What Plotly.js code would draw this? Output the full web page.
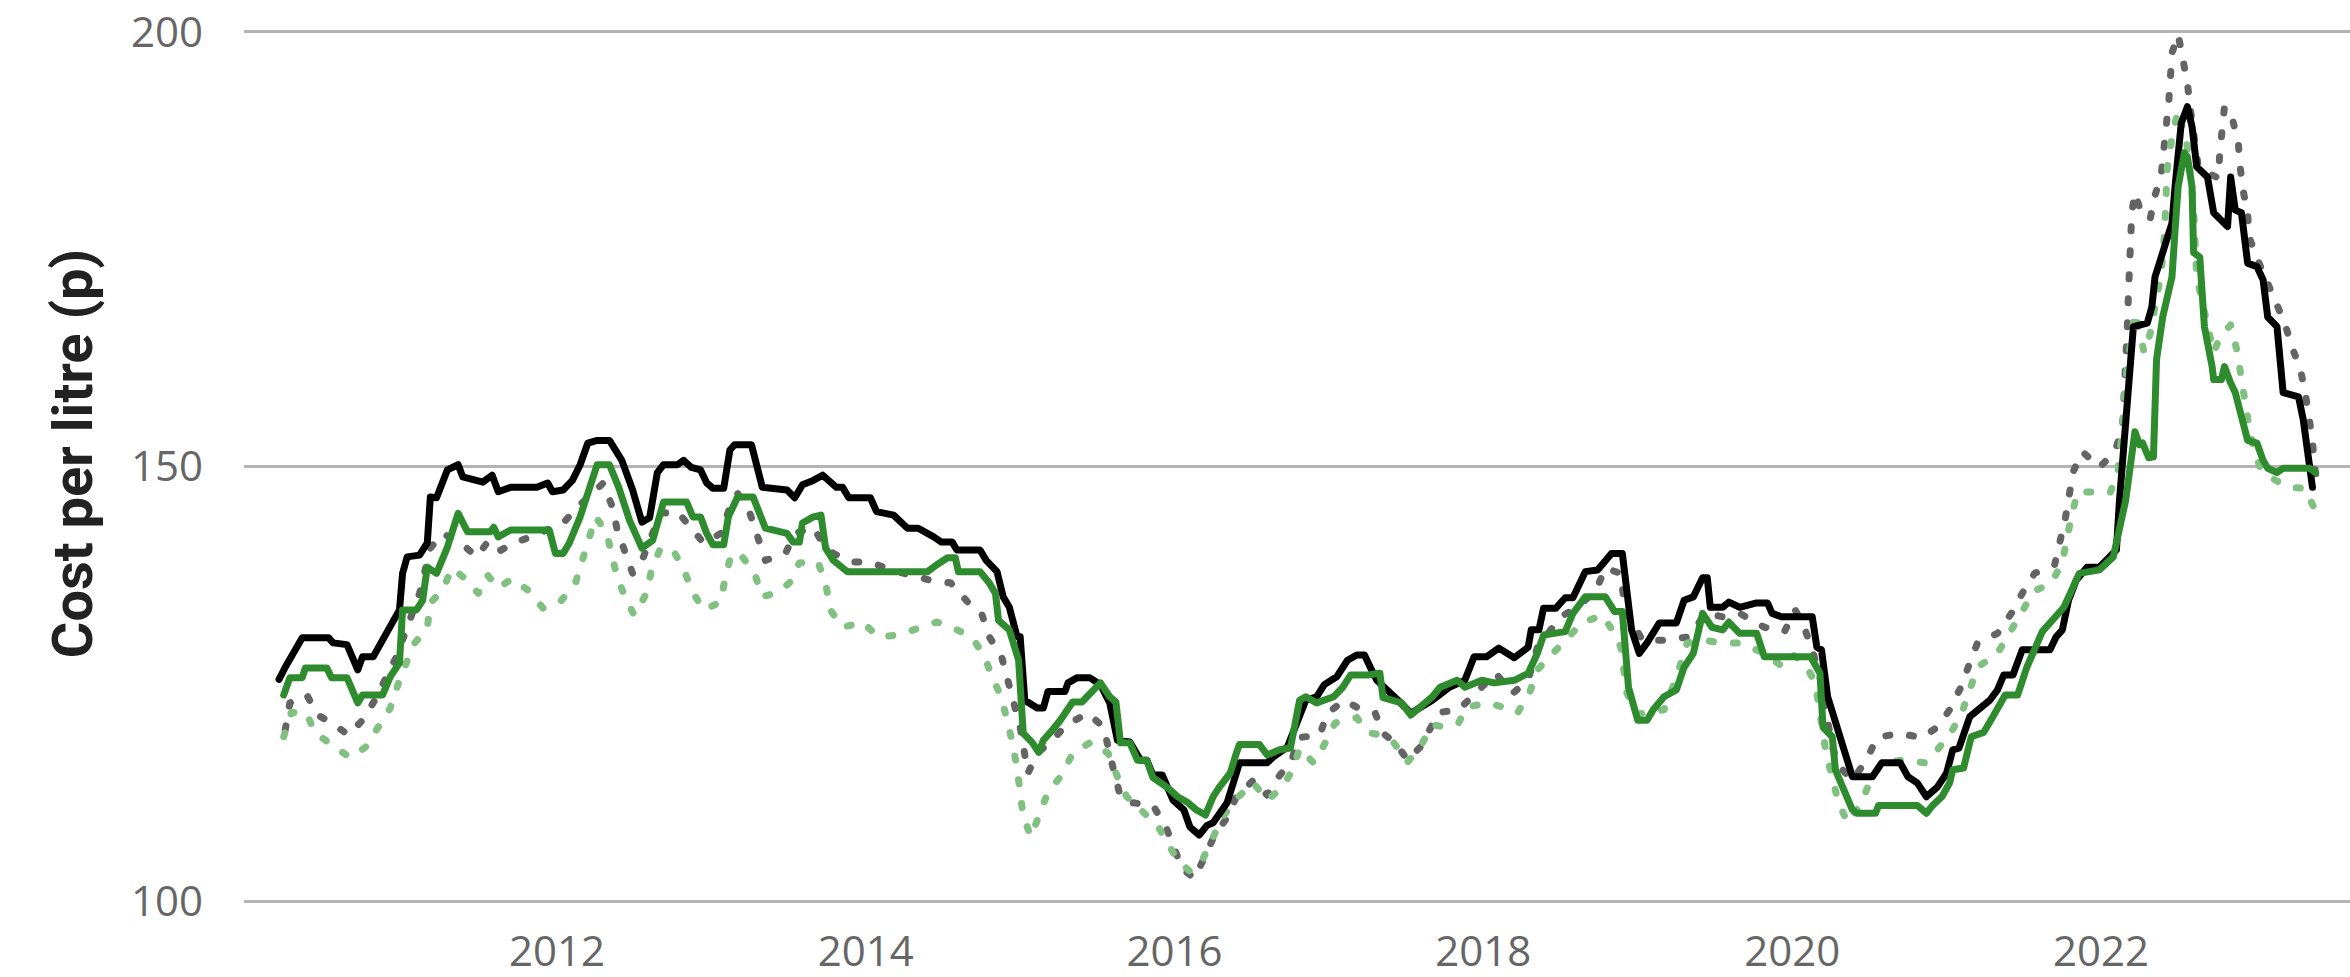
<!DOCTYPE html>
<html>
<head>
<meta charset="utf-8">
<script src="https://cdn.plot.ly/plotly-3.0.1.min.js"></script>
<style>
html, body { margin: 0; padding: 0; background: #fff; overflow: hidden; }
#chart { width: 2350px; height: 977px; }
.scatterlayer .js-line { stroke-linecap: round; stroke-linejoin: round; }
</style>
</head>
<body>
<div id="chart"></div>
<script>
// x values are decimal years
var blackYears = [2010.20,2010.24,2010.35,2010.52,2010.55,2010.64,2010.71,2010.74,2010.81,2010.87,2010.94,2010.98,2011.00,2011.03,2011.11,2011.16,2011.18,2011.22,2011.29,2011.36,2011.39,2011.52,2011.58,2011.62,2011.70,2011.87,2011.94,2011.97,2012.04,2012.10,2012.15,2012.20,2012.26,2012.34,2012.42,2012.49,2012.55,2012.60,2012.65,2012.69,2012.78,2012.82,2012.87,2012.93,2012.97,2013.01,2013.08,2013.12,2013.15,2013.26,2013.33,2013.49,2013.54,2013.59,2013.66,2013.72,2013.81,2013.85,2013.89,2014.03,2014.07,2014.18,2014.27,2014.34,2014.44,2014.49,2014.56,2014.59,2014.74,2014.78,2014.85,2014.89,2014.93,2014.98,2015.00,2015.03,2015.11,2015.15,2015.18,2015.29,2015.31,2015.37,2015.45,2015.52,2015.58,2015.63,2015.71,2015.78,2015.82,2015.86,2015.92,2015.97,2015.99,2016.06,2016.10,2016.16,2016.21,2016.25,2016.34,2016.40,2016.42,2016.60,2016.64,2016.73,2016.81,2016.85,2016.92,2016.97,2017.05,2017.12,2017.18,2017.23,2017.27,2017.31,2017.46,2017.53,2017.67,2017.78,2017.88,2017.94,2018.02,2018.10,2018.20,2018.29,2018.31,2018.36,2018.39,2018.47,2018.53,2018.58,2018.66,2018.74,2018.83,2018.90,2018.96,2019.01,2019.06,2019.14,2019.25,2019.30,2019.36,2019.42,2019.45,2019.47,2019.55,2019.59,2019.66,2019.77,2019.84,2019.87,2019.93,2020.13,2020.16,2020.19,2020.23,2020.28,2020.35,2020.39,2020.52,2020.58,2020.70,2020.75,2020.81,2020.87,2020.94,2021.00,2021.04,2021.08,2021.15,2021.22,2021.28,2021.33,2021.37,2021.43,2021.49,2021.67,2021.71,2021.75,2021.79,2021.84,2021.91,2021.99,2022.06,2022.10,2022.12,2022.19,2022.21,2022.30,2022.33,2022.35,2022.39,2022.42,2022.46,2022.48,2022.50,2022.52,2022.56,2022.59,2022.62,2022.69,2022.73,2022.82,2022.84,2022.87,2022.91,2022.95,2023.01,2023.05,2023.08,2023.14,2023.18,2023.28,2023.31,2023.33,2023.37];
var blackCost = [125.5,126.9,130.3,130.3,129.7,129.5,126.6,128.1,128.1,130.0,132.3,133.5,137.7,139.6,139.8,141.2,146.5,146.4,149.6,150.2,148.8,148.2,149.0,147.1,147.6,147.6,148.1,147.1,147.3,148.4,150.2,152.7,153.0,153.0,150.7,147.3,143.6,144.1,149.3,150.2,150.2,150.7,149.9,149.6,148.1,147.5,147.5,151.9,152.5,152.5,147.6,147.3,146.4,147.9,148.4,149.0,147.6,147.6,146.4,146.4,144.8,144.4,142.9,142.9,141.9,141.3,141.3,140.4,140.4,139.2,137.9,135.0,133.8,130.4,130.4,123.1,122.2,122.2,124.1,124.1,125.1,125.7,125.7,124.9,122.8,118.5,118.3,116.2,116.2,114.5,114.5,112.0,111.6,110.5,108.5,107.6,108.7,109.0,111.3,114.7,115.9,115.9,116.6,117.7,121.6,123.1,123.5,124.9,125.8,127.7,128.3,128.3,126.8,125.4,122.9,121.6,123.1,124.6,125.4,128.1,128.1,129.1,128.0,129.2,131.2,131.2,133.7,133.7,134.9,134.9,137.9,138.1,140.0,140.0,131.2,128.5,129.7,132.0,132.0,134.6,135.0,137.2,137.2,133.8,133.8,134.4,133.8,134.3,134.3,133.1,132.7,132.7,129.2,128.9,123.5,120.5,117.0,114.3,114.3,115.9,115.9,114.3,113.6,112.0,113.1,114.7,117.4,117.6,121.2,122.3,123.1,124.3,126.0,126.0,128.9,128.9,130.4,131.2,134.6,136.9,138.4,138.4,139.6,140.4,146.1,161.5,166.1,166.5,168.4,171.8,174.1,175.7,178.0,182.2,186.8,189.5,191.4,189.1,184.5,183.3,179.2,177.6,183.3,179.5,179.2,173.4,173.0,171.5,167.2,166.1,158.5,158.0,155.4,152.2,147.6];

var greenYears = [2010.23,2010.27,2010.35,2010.37,2010.51,2010.54,2010.64,2010.71,2010.74,2010.87,2010.92,2010.98,2011.00,2011.09,2011.13,2011.16,2011.22,2011.29,2011.36,2011.42,2011.57,2011.59,2011.62,2011.70,2011.95,2011.99,2012.04,2012.08,2012.15,2012.21,2012.26,2012.34,2012.40,2012.47,2012.55,2012.62,2012.67,2012.69,2012.84,2012.88,2012.93,2012.97,2013.01,2013.08,2013.11,2013.17,2013.27,2013.35,2013.49,2013.53,2013.57,2013.59,2013.66,2013.71,2013.74,2013.79,2013.88,2014.40,2014.46,2014.53,2014.58,2014.60,2014.74,2014.80,2014.84,2014.86,2014.93,2014.99,2015.02,2015.08,2015.12,2015.15,2015.21,2015.26,2015.34,2015.40,2015.52,2015.58,2015.62,2015.65,2015.71,2015.76,2015.82,2015.86,2015.95,2016.02,2016.08,2016.14,2016.20,2016.25,2016.29,2016.36,2016.40,2016.42,2016.55,2016.60,2016.68,2016.75,2016.81,2016.85,2016.92,2017.03,2017.09,2017.14,2017.25,2017.33,2017.35,2017.44,2017.47,2017.53,2017.67,2017.72,2017.83,2017.88,2017.99,2018.07,2018.20,2018.29,2018.35,2018.39,2018.53,2018.58,2018.66,2018.79,2018.85,2018.90,2018.94,2019.00,2019.06,2019.10,2019.17,2019.25,2019.30,2019.36,2019.42,2019.48,2019.55,2019.59,2019.66,2019.77,2019.82,2020.12,2020.18,2020.20,2020.26,2020.28,2020.35,2020.39,2020.42,2020.54,2020.56,2020.81,2020.87,2020.91,2020.97,2021.02,2021.04,2021.11,2021.16,2021.24,2021.30,2021.38,2021.46,2021.52,2021.62,2021.76,2021.86,2021.99,2022.08,2022.16,2022.22,2022.25,2022.27,2022.31,2022.34,2022.36,2022.40,2022.46,2022.48,2022.50,2022.54,2022.56,2022.59,2022.60,2022.64,2022.67,2022.72,2022.73,2022.78,2022.80,2022.84,2022.87,2022.95,2023.01,2023.05,2023.08,2023.14,2023.18,2023.35,2023.39];
var greenCost = [123.7,125.7,125.7,126.8,126.8,125.7,125.7,122.8,123.7,123.7,125.8,127.4,133.5,133.5,134.6,138.4,137.7,140.7,144.6,142.5,142.5,143.0,141.9,142.7,142.7,140.0,140.0,141.2,144.2,147.6,150.2,150.2,147.6,143.8,140.6,141.5,144.6,145.9,145.9,144.2,144.2,142.3,141.0,141.0,144.2,146.5,146.5,142.9,142.3,141.3,141.3,143.5,144.2,144.4,140.6,139.2,137.9,137.9,138.7,139.5,139.5,137.9,137.9,136.6,135.4,132.3,131.2,127.7,119.3,118.2,117.1,118.5,119.7,120.8,122.9,122.9,125.1,123.5,122.9,118.2,118.2,116.2,116.2,114.2,113.1,112.0,111.4,110.5,109.9,112.0,113.1,114.7,117.0,118.0,118.0,116.8,117.4,117.6,123.1,123.5,122.8,123.5,124.6,126.0,126.0,126.2,123.4,123.1,122.8,121.4,123.5,124.6,125.4,124.6,125.4,125.1,125.4,126.2,128.5,130.6,131.0,133.1,135.0,135.0,133.3,133.3,124.6,120.8,120.8,122.0,123.5,124.3,126.9,128.5,133.1,131.5,131.2,132.1,130.8,130.8,128.1,128.1,126.2,120.0,118.9,115.1,112.2,110.5,110.1,110.1,111.0,111.0,110.1,111.0,112.0,113.6,115.1,115.3,118.9,119.4,121.2,123.7,123.7,126.9,131.0,133.8,137.7,138.1,139.6,146.1,154.0,152.5,152.7,151.0,151.1,162.3,167.2,171.8,177.2,182.2,186.1,185.6,182.2,174.6,174.1,166.1,161.5,160.0,160.0,161.5,159.6,158.5,153.0,152.7,150.7,149.8,149.3,149.8,149.8,149.3];

var greyDotYears = [2010.24,2010.27,2010.38,2010.45,2010.54,2010.65,2010.74,2010.82,2010.96,2011.11,2011.18,2011.26,2011.39,2011.48,2011.55,2011.62,2011.72,2011.83,2012.04,2012.15,2012.30,2012.36,2012.39,2012.44,2012.49,2012.56,2012.67,2012.78,2012.86,2012.95,2013.06,2013.12,2013.17,2013.25,2013.30,2013.35,2013.48,2013.54,2013.66,2013.72,2013.79,2013.91,2014.03,2014.16,2014.29,2014.42,2014.55,2014.66,2014.75,2014.80,2014.88,2014.92,2014.95,2015.00,2015.05,2015.11,2015.21,2015.30,2015.44,2015.54,2015.61,2015.65,2015.73,2015.86,2015.94,2015.99,2016.05,2016.13,2016.20,2016.26,2016.34,2016.40,2016.51,2016.60,2016.67,2016.76,2016.80,2016.94,2016.99,2017.10,2017.21,2017.30,2017.35,2017.43,2017.51,2017.59,2017.64,2017.71,2017.84,2017.98,2018.08,2018.19,2018.29,2018.35,2018.50,2018.61,2018.73,2018.79,2018.89,2018.92,2018.96,2019.03,2019.17,2019.33,2019.44,2019.55,2019.66,2019.82,2019.95,2020.02,2020.08,2020.13,2020.18,2020.26,2020.31,2020.39,2020.48,2020.55,2020.69,2020.84,2020.94,2021.02,2021.09,2021.14,2021.20,2021.33,2021.42,2021.49,2021.57,2021.70,2021.73,2021.77,2021.82,2021.88,2021.99,2022.09,2022.14,2022.16,2022.17,2022.18,2022.19,2022.20,2022.22,2022.27,2022.32,2022.35,2022.39,2022.41,2022.43,2022.44,2022.45,2022.46,2022.50,2022.53,2022.56,2022.58,2022.63,2022.69,2022.76,2022.77,2022.78,2022.80,2022.85,2022.89,2022.90,2022.92,2022.95,2022.96,2023.01,2023.07,2023.14,2023.19,2023.24,2023.29,2023.32,2023.35,2023.37,2023.38,2023.40];
var greyDotCost = [119.7,122.8,123.7,121.4,120.5,119.1,120.8,123.1,128.1,135.4,140.6,142.3,141.0,139.6,141.3,140.2,141.2,141.9,143.5,145.6,148.1,145.3,142.7,140.2,137.7,139.6,144.6,144.8,143.0,141.2,142.3,145.3,146.9,144.6,141.9,139.2,140.0,142.3,143.0,141.2,140.0,139.0,139.0,138.1,137.5,136.9,136.6,134.4,133.1,130.4,128.1,125.2,122.8,120.0,114.7,117.0,118.5,120.3,121.6,120.0,114.7,112.0,111.3,111.0,108.7,106.2,103.7,102.6,105.1,107.6,109.6,112.0,113.9,112.2,114.2,116.2,118.8,119.1,121.6,123.1,122.0,121.6,119.3,118.2,116.2,117.7,119.3,121.7,122.0,124.6,126.2,123.9,125.4,129.2,132.7,133.8,135.8,138.3,137.7,133.1,132.3,130.0,130.0,130.4,133.1,132.7,133.1,131.5,131.0,133.5,131.4,128.9,125.8,117.7,115.4,113.9,116.2,118.8,119.3,118.8,120.0,122.0,124.5,126.9,129.7,130.8,133.1,135.4,137.7,138.7,141.2,144.1,149.4,151.7,149.9,151.7,154.5,160.0,165.7,170.9,176.4,179.3,181.5,178.7,178.6,181.2,183.5,186.6,189.5,192.2,194.8,197.6,199.7,196.8,194.1,191.0,184.5,183.8,183.2,186.1,188.7,191.4,190.1,187.2,184.7,181.8,179.2,176.4,174.0,171.5,168.8,166.5,163.6,161.3,158.8,155.9,153.0,150.5,148.0];

var greenDotYears = [2010.23,2010.28,2010.38,2010.43,2010.54,2010.66,2010.76,2010.84,2010.92,2010.97,2011.07,2011.16,2011.18,2011.26,2011.32,2011.42,2011.49,2011.55,2011.62,2011.71,2011.81,2011.91,2012.02,2012.12,2012.16,2012.20,2012.25,2012.32,2012.39,2012.45,2012.50,2012.58,2012.61,2012.67,2012.75,2012.82,2012.87,2012.95,2013.06,2013.09,2013.13,2013.20,2013.28,2013.33,2013.44,2013.51,2013.57,2013.69,2013.74,2013.77,2013.85,2013.98,2014.08,2014.21,2014.34,2014.46,2014.56,2014.69,2014.77,2014.82,2014.88,2014.92,2014.95,2014.98,2015.00,2015.02,2015.07,2015.13,2015.18,2015.27,2015.34,2015.46,2015.57,2015.63,2015.69,2015.78,2015.89,2015.95,2016.02,2016.10,2016.18,2016.24,2016.31,2016.39,2016.51,2016.60,2016.70,2016.77,2016.81,2016.90,2016.97,2017.04,2017.18,2017.25,2017.33,2017.42,2017.51,2017.60,2017.67,2017.75,2017.84,2017.89,2018.03,2018.13,2018.22,2018.30,2018.35,2018.53,2018.64,2018.77,2018.85,2018.89,2018.93,2019.00,2019.17,2019.25,2019.32,2019.44,2019.53,2019.66,2019.82,2019.92,2019.99,2020.08,2020.15,2020.22,2020.26,2020.30,2020.36,2020.45,2020.50,2020.58,2020.71,2020.86,2020.94,2021.03,2021.10,2021.15,2021.20,2021.33,2021.41,2021.49,2021.56,2021.68,2021.75,2021.78,2021.81,2021.85,2021.93,2022.06,2022.11,2022.14,2022.16,2022.20,2022.22,2022.28,2022.32,2022.35,2022.39,2022.41,2022.42,2022.43,2022.46,2022.50,2022.56,2022.60,2022.62,2022.65,2022.69,2022.73,2022.77,2022.84,2022.88,2022.90,2022.93,2022.95,2022.98,2023.03,2023.09,2023.22,2023.32,2023.40];
var greenDotCost = [118.9,121.7,121.6,119.4,118.0,116.5,117.7,119.9,122.2,124.9,129.5,131.4,134.3,135.8,138.3,136.9,135.4,137.5,136.0,137.1,135.8,133.7,134.4,136.6,139.0,141.5,144.2,142.5,137.2,134.6,132.9,135.4,137.9,140.6,140.4,138.3,135.8,133.5,134.4,137.2,140.0,139.6,137.7,135.0,135.6,136.7,138.9,139.0,136.6,133.5,131.5,132.1,130.4,130.6,131.4,132.1,131.5,130.3,128.1,125.7,123.4,120.5,118.2,115.3,112.4,109.7,107.4,110.1,112.5,114.5,117.0,118.3,117.0,114.3,112.0,110.5,108.7,106.8,104.7,103.4,104.7,107.0,109.6,111.6,113.6,111.6,113.1,115.3,117.6,115.9,118.0,120.5,121.1,119.4,119.1,118.2,116.0,118.0,120.3,120.0,120.5,122.3,122.8,122.3,121.6,124.0,126.6,130.0,132.0,132.9,130.8,129.2,123.9,121.5,122.0,125.7,129.7,130.0,129.7,129.7,128.5,127.2,128.5,127.4,125.1,117.0,113.9,111.3,109.0,111.3,113.6,115.9,116.2,115.9,117.4,119.4,121.7,124.5,126.9,128.5,130.8,133.3,135.6,136.6,139.0,141.8,144.4,147.1,147.0,147.0,149.4,154.5,160.0,166.3,167.7,163.1,165.4,168.4,172.3,176.4,180.3,184.5,187.9,191.0,186.8,179.9,171.8,169.2,166.5,163.1,164.9,166.3,163.4,160.9,158.0,155.6,152.7,149.9,148.8,147.6,147.5,144.5];

var yearTicks = [2012, 2014, 2016, 2018, 2020, 2022];
var yearLabels = ['2012', '2014', '2016', '2018', '2020', '2022'];
var costTicks = [100, 150, 200];
var costLabels = ['100', '150', '200'];

function lineTrace(xs, ys, colour, width, dash) {
    return {
        x: xs,
        y: ys,
        type: 'scatter',
        mode: 'lines',
        hoverinfo: 'skip',
        line: { color: colour, width: width, dash: dash, shape: 'linear' }
    };
}

var data = [
    lineTrace(greyDotYears, greyDotCost, '#646464', 7, '4px,20px'),
    lineTrace(greenDotYears, greenDotCost, '#80c080', 7, '4px,20px'),
    lineTrace(blackYears, blackCost, '#000000', 7, 'solid'),
    lineTrace(greenYears, greenCost, '#2e8c2e', 7, 'solid')
];

var tickFont = { family: '"Open Sans", "Noto Sans", sans-serif', size: 42, color: '#666666' };

var layout = {
    width: 2350,
    height: 977,
    showlegend: false,
    paper_bgcolor: '#ffffff',
    plot_bgcolor: '#ffffff',
    margin: { l: 244, r: 0, t: 0, b: 70, pad: 0 },
    xaxis: {
        range: [2009.973, 2023.613],
        tickmode: 'array',
        tickvals: yearTicks,
        ticktext: yearLabels,
        showgrid: false,
        zeroline: false,
        showline: false,
        ticks: '',
        tickfont: tickFont,
        ticklabelstandoff: 16
    },
    yaxis: {
        range: [99.31, 203.68],
        tickmode: 'array',
        tickvals: costTicks,
        ticktext: costLabels,
        showgrid: true,
        gridcolor: '#b4b4b4',
        gridwidth: 3,
        zeroline: false,
        showline: false,
        ticks: '',
        tickfont: tickFont,
        ticklabelstandoff: 40,
        automargin: false,
        title: {
            text: 'Cost per litre (p)',
            standoff: 20,
            font: { family: 'Roboto, sans-serif', size: 56, color: '#222222', weight: 'bold' }
        }
    }
};

Plotly.newPlot('chart', data, layout, { staticPlot: true, displayModeBar: false });
</script>
</body>
</html>
